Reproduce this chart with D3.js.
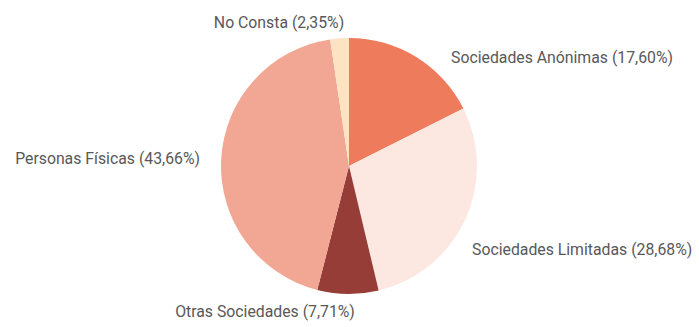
<!DOCTYPE html>
<html>
<head>
<meta charset="utf-8">
<script src="https://cdn.jsdelivr.net/npm/d3@7"></script>
<style>
  body { margin: 0; background: #fff; }
  svg { display: block; }
</style>
</head>
<body>
<svg id="chart" width="699" height="327"></svg>
<script>
(function() {

  // Data
  const categories = ["Sociedades Anónimas", "Sociedades Limitadas", "Otras Sociedades", "Personas Físicas", "No Consta"];
  const shares = [17.60, 28.68, 7.71, 43.66, 2.35];
  const colors = ["#ee7b5c", "#fde7e1", "#953d36", "#f2a794", "#fde3c2"];

  const width = 699;
  const height = 327;
  const center = { x: 349, y: 166 };
  const radius = 128;
  const INK = "#585858";
  const SQUEEZE = 0.93;  // condensed look of the original type

  const svg = d3.select("#chart");

  const rows = categories.map((name, i) => ({ name, value: shares[i], color: colors[i] }));

  const pie = d3.pie().sort(null).value(d => d.value);
  const arc = d3.arc().innerRadius(0).outerRadius(radius);

  const g = svg.append("g").attr("transform", `translate(${center.x},${center.y})`);

  g.selectAll("path")
    .data(pie(rows))
    .join("path")
    .attr("d", arc)
    .attr("fill", d => d.data.color);

  // label placement, relative to pie centre (hand-placed like the original)
  const labelPos = {
    "Sociedades Anónimas":  { x: 102,  y: -103, anchor: "start" },
    "Sociedades Limitadas": { x: 123,  y: 89,   anchor: "start" },
    "Otras Sociedades":     { x: -84,  y: 151,  anchor: "middle" },
    "Personas Físicas":     { x: -149, y: -2,   anchor: "end" },
    "No Consta":            { x: -70,  y: -138, anchor: "middle" }
  };

  const fmt = v => v.toFixed(2).replace(".", ",") + "%";

  g.selectAll("text.label")
    .data(rows)
    .join("text")
    .attr("class", "label")
    .attr("transform", d => `translate(${labelPos[d.name].x},${labelPos[d.name].y}) scale(${SQUEEZE},1)`)
    .attr("text-anchor", d => labelPos[d.name].anchor)
    .attr("font-family", "Roboto, 'Liberation Sans', sans-serif")
    .attr("font-size", 17)
    .attr("fill", INK)
    .text(d => `${d.name} (${fmt(d.value)})`);

})();
</script>
</body>
</html>
